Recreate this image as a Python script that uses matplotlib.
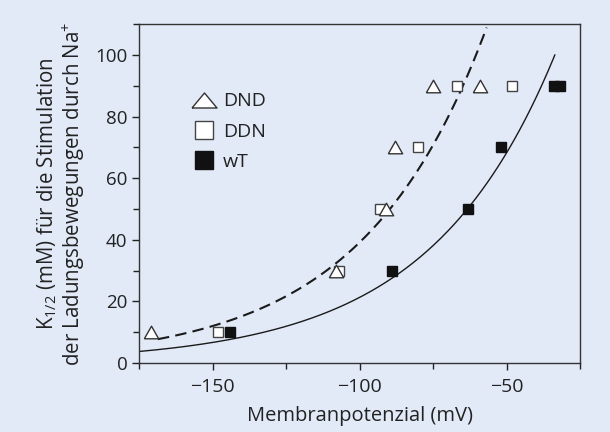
import numpy as np
import matplotlib
matplotlib.use("Agg")
import matplotlib.pyplot as plt
from matplotlib.lines import Line2D
from matplotlib.ticker import MultipleLocator

plt.rcParams['font.family'] = ['Open Sans', 'DejaVu Sans']
plt.rcParams['mathtext.default'] = 'regular'

# Data
dnd_x = [-171, -108, -91, -88, -75, -59]
dnd_y = [10, 30, 50, 70, 90, 90]
ddn_x = [-148, -107, -93, -80, -67, -48]
ddn_y = [10, 30, 50, 70, 90, 90]
wt_x = [-144, -89, -63, -52, -34, -32]
wt_y = [10, 30, 50, 70, 90, 90]

# Exponential fit curves: K = A * exp((V - V0) / L)
solid_V0, solid_A, solid_L = -33.6, 100.0, 42.9
dash_V0, dash_A, dash_L = -168.6, 7.7, 42.2
solid_range = (-175, -33.6)
dash_range = (-168.6, -56.8)

tri_plot = [(-1, -0.88), (1, -0.88), (0, 0.88), (-1, -0.88)]
tri_leg = [(-1, -0.6), (1, -0.6), (0, 0.6), (-1, -0.6)]

bg = '#e2eaf8'
fig = plt.figure(figsize=(6.10, 4.32), dpi=100, facecolor=bg)
ax = fig.add_axes([0.228, 0.160, 0.723, 0.784], facecolor=bg)

vs = np.linspace(*solid_range, 300)
ax.plot(vs, solid_A * np.exp((vs - solid_V0) / solid_L), color='#1a1a1a', lw=1.0, zorder=2)
vd = np.linspace(*dash_range, 300)
ax.plot(vd, dash_A * np.exp((vd - dash_V0) / dash_L), color='#1a1a1a', lw=1.5,
        dashes=(5.5, 3), zorder=2)

ax.plot(ddn_x, ddn_y, ls='none', marker='s', ms=7.7, mfc='white', mec='#444444', mew=1.0, zorder=3)
ax.plot(dnd_x, dnd_y, ls='none', marker=tri_plot, ms=10.3, mfc='white', mec='#333333', mew=1.0, zorder=4)
ax.plot(wt_x, wt_y, ls='none', marker='s', ms=7.7, mfc='#111111', mec='#111111', mew=1.0, zorder=3)

ax.set_xlim(-175, -25)
ax.set_ylim(0, 110)
ax.xaxis.set_minor_locator(MultipleLocator(25))
ax.yaxis.set_major_locator(MultipleLocator(20))
ax.yaxis.set_minor_locator(MultipleLocator(10))
ax.set_xticks([-150, -100, -50])
ax.set_xticklabels(['\u2212150', '\u2212100', '\u221250'])
ax.tick_params(which='major', direction='out', length=5, width=1, color='#222222',
               labelsize=13.5, labelcolor='#222222')
ax.tick_params(which='minor', direction='out', length=4, width=1, color='#222222')
ax.tick_params(axis='x', labelsize=14, pad=6)
for s in ax.spines.values():
    s.set_color('#333333')
    s.set_linewidth(1.0)

ax.set_xlabel('Membranpotenzial (mV)', fontsize=14.5, color='#222222', labelpad=7)
ax.set_ylabel('K$_{1/2}$ (mM) für die Stimulation\nder Ladungsbewegungen durch Na$^{+}$',
              fontsize=14.8, color='#222222', labelpad=6, linespacing=1.05)

handles = [
    Line2D([], [], ls='none', marker=tri_leg, ms=18, mfc='white', mec='#333333', mew=1.0),
    Line2D([], [], ls='none', marker='s', ms=12.7, mfc='white', mec='#444444', mew=1.0),
    Line2D([], [], ls='none', marker='s', ms=12.7, mfc='#111111', mec='#111111', mew=1.0),
]
ax.legend(handles, ['DND', 'DDN', 'wT'], loc='upper left', bbox_to_anchor=(0.08, 0.85),
          frameon=False, fontsize=14, handlelength=1.2, handletextpad=0.4,
          labelspacing=0.62, labelcolor='#222222')

fig.savefig('out.png', dpi=100, facecolor=bg)
